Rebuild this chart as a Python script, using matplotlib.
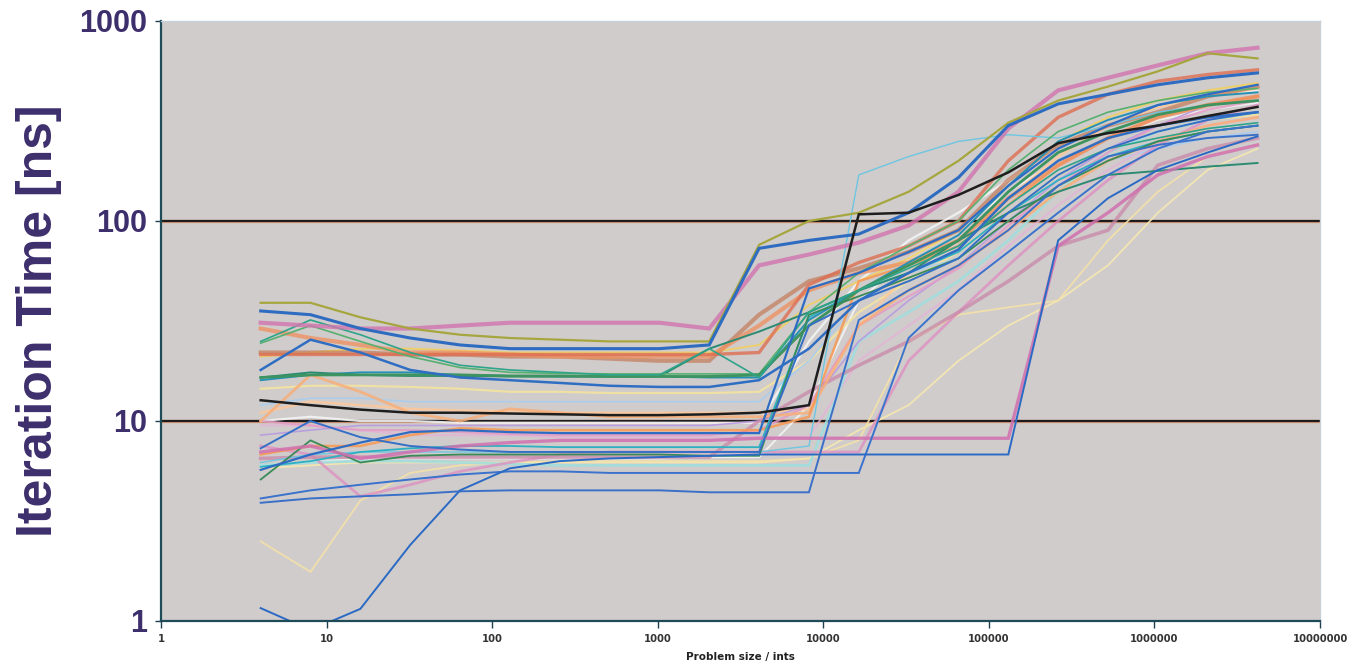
import matplotlib
matplotlib.use("Agg")
import matplotlib.pyplot as plt
from matplotlib.ticker import FixedLocator, NullLocator

# Problem sizes (ints): 2^2 .. 2^22
sizes = [4, 8, 16, 32, 64, 128, 256, 512, 1024, 2048, 4096, 8192, 16384, 32768,
         65536, 131072, 262144, 524288, 1048576, 2097152, 4194304]

x_ticks = [1, 10, 100, 1000, 10000, 100000, 1000000, 10000000]
x_tick_labels = ["1", "10", "100", "1000", "10000", "100000", "1000000", "10000000"]
y_ticks = [1, 10, 100, 1000]
y_tick_labels = ["1", "10", "100", "1000"]

# Iteration time [ns] per configuration
s_olive = [39, 39, 33, 29, 27, 26, 25.5, 25, 25, 25, 76, 100, 110, 140, 200, 310, 400, 470, 560, 690, 650]
s_pink_top = [31, 30, 29, 29, 30, 31, 31, 31, 31, 29, 60, 68, 78, 95, 140, 290, 450, 520, 600, 690, 735]
s_blue_top = [35.5, 34, 29, 26, 24, 23, 23, 23, 23, 24, 73, 80, 86, 110, 165, 300, 385, 430, 480, 520, 550]
s_black = [12.7, 12, 11.4, 11, 11, 10.9, 10.8, 10.7, 10.7, 10.8, 11, 12, 108, 110, 135, 175, 245, 275, 300, 335, 372]
s_orange = [29, 26, 24, 22, 22, 21.5, 21, 21, 21, 21, 30, 45, 55, 62, 80, 130, 190, 260, 330, 380, 420]
s_brown = [22, 22, 22, 21.5, 21.5, 21, 21, 20.5, 20, 20, 34, 50, 58, 70, 90, 160, 240, 300, 350, 420, 470]
s_teal_zig = [25, 32, 27, 22, 19, 18, 17.5, 17, 17, 23, 16.5, 35, 45, 58, 75, 120, 180, 230, 260, 290, 310]
s_green = [16.5, 17, 17, 17, 17, 16.8, 16.8, 16.7, 16.7, 16.7, 17, 30, 45, 60, 80, 140, 220, 280, 340, 380, 400]
s_blue_b = [18, 25.5, 22, 18, 16.5, 16, 15.5, 15, 14.8, 14.8, 16, 23, 40, 55, 72, 130, 200, 260, 300, 330, 350]
s_paleyellow = [14.5, 15, 15, 14.8, 14.5, 14, 14, 13.8, 13.8, 13.8, 14, 20, 35, 50, 70, 110, 170, 230, 280, 320, 340]
s_lightorange = [10, 17, 14, 11, 10, 11.5, 11, 10.5, 10.5, 10.5, 10.5, 11, 30, 45, 60, 90, 140, 200, 250, 300, 330]
s_cyan = [6.2, 6.8, 7, 7, 7, 7, 7, 7, 7, 7, 7, 7.5, 170, 210, 250, 270, 260, 300, 350, 380, 400]
s_blue_zig = [7.3, 10, 8.3, 7.5, 7.2, 7, 7, 7, 7, 7, 7, 30, 40, 50, 65, 110, 170, 230, 280, 320, 350]
s_blue_c = [5.7, 6.8, 7.8, 8.8, 9, 8.8, 8.7, 8.7, 8.7, 8.7, 8.7, 46, 55, 70, 90, 150, 230, 300, 380, 430, 480]
s_blue_d = [4.1, 4.5, 4.8, 5.1, 5.4, 5.6, 5.6, 5.5, 5.5, 5.5, 5.5, 5.5, 5.5, 26, 45, 70, 110, 170, 230, 280, 300]
s_blue_e = [3.9, 4.1, 4.2, 4.3, 4.45, 4.5, 4.5, 4.5, 4.5, 4.4, 4.4, 4.4, 32, 45, 60, 90, 150, 210, 240, 260, 270]
s_blue_low = [1.16, 0.9, 1.15, 2.4, 4.5, 5.8, 6.3, 6.5, 6.6, 6.7, 6.8, 6.8, 6.8, 6.8, 6.8, 6.8, 80, 130, 180, 220, 265]
s_pink_late = [7, 7.5, 6.5, 7, 7.5, 7.8, 8, 8, 8, 8, 8.2, 8.2, 8.2, 8.2, 8.2, 8.2, 75, 110, 170, 210, 240]
s_yellow_low = [2.5, 1.76, 4, 5.5, 6, 6.2, 6.3, 6.3, 6.3, 6.3, 6.3, 6.5, 8, 25, 34, 37, 40, 80, 140, 210, 240]
s_green_zig = [5.1, 8, 6.2, 6.7, 6.8, 6.8, 6.8, 6.8, 6.8, 6.7, 6.7, 34, 42, 52, 65, 100, 150, 200, 250, 280, 300]
s_teal = [5.9, 6.3, 7, 7.3, 7.5, 7.5, 7.4, 7.4, 7.4, 7.4, 7.4, 33, 45, 55, 70, 110, 160, 210, 250, 280, 300]
s_orange_b = [6.8, 7.5, 7.5, 8.5, 9.2, 9, 9, 9, 9, 9, 9, 10.5, 50, 60, 75, 120, 190, 260, 330, 380, 420]
s_pink_light = [7.5, 6.8, 4.2, 4.8, 5.6, 6.2, 6.8, 7, 7, 7, 7, 7, 7, 20, 35, 60, 100, 160, 240, 320, 380]
s_lightblue = [12, 13, 13, 12.5, 12.5, 12.5, 12.5, 12.5, 12.5, 12.5, 12.5, 20, 40, 55, 65, 100, 150, 200, 230, 260, 280]
s_lavender = [9.5, 9.5, 9, 8.5, 8.5, 8.5, 8.3, 8.3, 8.3, 8.3, 8.3, 8.3, 20, 30, 45, 75, 120, 180, 250, 300, 330]
s_white_a = [10, 10.5, 10, 10, 9.8, 9.8, 9.8, 9.8, 9.8, 9.8, 9.8, 25, 50, 80, 110, 160, 230, 300, 380, 420, 450]
s_white_b = [6, 6.2, 6.5, 6.5, 6.5, 6.5, 6.5, 6.5, 6.5, 6.6, 6.6, 12, 40, 65, 90, 140, 200, 260, 320, 360, 390]
s_lightgreen = [24.5, 30, 25, 21, 18.5, 17.5, 17.3, 17.2, 17.2, 17.2, 17.2, 35, 55, 75, 100, 180, 280, 350, 400, 440, 460]
s_red = [21.5, 21.5, 21.5, 21.5, 21.5, 21.5, 21.5, 21.5, 21.5, 21.5, 22, 48, 62, 75, 100, 200, 330, 430, 500, 540, 570]
s_darkteal = [16.5, 17.5, 17, 16.8, 16.8, 16.7, 16.7, 16.7, 16.7, 23, 28, 35, 45, 55, 80, 110, 140, 170, 178, 187, 195]
s_lilac = [8.5, 9, 9.5, 9.5, 9.5, 9.5, 9.5, 9.5, 9.5, 9.5, 10, 12, 25, 40, 60, 100, 160, 230, 300, 380, 420]
s_mauve = [6.5, 6.6, 6.6, 6.6, 6.6, 6.6, 6.6, 6.6, 6.6, 6.6, 10, 14, 19, 25, 35, 50, 75, 90, 190, 230, 260]
s_paleorange = [11, 12.5, 12, 11.5, 11.3, 11.2, 11, 11, 11, 11, 11, 11.5, 30, 55, 80, 130, 210, 300, 370, 420, 460]
s_yellow = [21, 22, 23, 23, 22.5, 22, 22, 22, 22, 22, 24, 38, 50, 65, 90, 150, 250, 330, 400, 450, 490]
s_tealblue = [16, 17, 17.5, 17.5, 17, 16.8, 16.7, 16.7, 16.7, 16.5, 16.5, 32, 45, 62, 85, 150, 250, 320, 380, 420, 440]
s_pink_mid = [10, 9.5, 9, 9, 8.8, 8.6, 8.5, 8.5, 8.5, 8.5, 9, 12, 30, 42, 58, 95, 150, 220, 300, 360, 400]
s_lightcyan = [6, 6.2, 6.3, 6.3, 6.2, 6.1, 6, 6, 6, 6, 6, 6, 25, 35, 50, 80, 140, 220, 280, 320, 350]
s_paleyellow_b = [5.8, 6, 6.2, 6.2, 6.2, 6.2, 6.2, 6.2, 6.2, 6.2, 6.2, 6.5, 9, 12, 20, 30, 40, 60, 110, 180, 230]

# (values, colour, width, alpha) - drawn in this order
series = [
    (s_white_a, "#f4f4f4", 1.6, 0.9),
    (s_white_b, "#f4f4f4", 1.4, 0.9),
    (s_paleyellow, "#f3e3a0", 1.6, 0.9),
    (s_paleyellow_b, "#f6e8b0", 1.3, 0.9),
    (s_yellow_low, "#f5e2a8", 1.3, 0.9),
    (s_lightblue, "#a8cdf0", 1.2, 0.9),
    (s_lavender, "#e3b5d5", 1.6, 0.8),
    (s_paleorange, "#ffc898", 1.8, 0.8),
    (s_lightcyan, "#9fdede", 2.0, 0.85),
    (s_lilac, "#b89ae0", 1.2, 0.9),
    (s_pink_mid, "#e49bc6", 1.6, 0.85),
    (s_pink_light, "#e08cc0", 2.0, 0.75),
    (s_mauve, "#c888a8", 2.6, 0.75),
    (s_yellow, "#f0cf60", 1.4, 0.9),
    (s_lightorange, "#f8ae78", 2.0, 0.85),
    (s_orange_b, "#f59a58", 1.8, 0.9),
    (s_brown, "#c47a58", 3.0, 0.7),
    (s_orange, "#ee9262", 3.0, 0.8),
    (s_red, "#de6e52", 2.4, 0.8),
    (s_cyan, "#6ec6e0", 1.0, 1.0),
    (s_teal, "#2fb0c2", 1.3, 1.0),
    (s_tealblue, "#2690b4", 1.4, 1.0),
    (s_darkteal, "#2c8a72", 1.4, 1.0),
    (s_lightgreen, "#58b070", 1.2, 1.0),
    (s_green, "#3d9460", 2.0, 1.0),
    (s_green_zig, "#3a8a58", 1.3, 1.0),
    (s_teal_zig, "#2ea48a", 1.2, 1.0),
    (s_pink_late, "#d070b0", 2.4, 0.85),
    (s_pink_top, "#d274ae", 3.0, 0.8),
    (s_olive, "#a6a63e", 1.6, 1.0),
    (s_blue_e, "#3a70c8", 1.4, 1.0),
    (s_blue_d, "#3a72cc", 1.4, 1.0),
    (s_blue_c, "#2e6cc4", 1.6, 1.0),
    (s_blue_zig, "#3570c6", 1.4, 1.0),
    (s_blue_b, "#2f6ec2", 1.8, 1.0),
    (s_blue_low, "#2a6ac4", 1.4, 1.0),
    (s_blue_top, "#2d6cc0", 2.2, 1.0),
    (s_black, "#1e1e1e", 1.8, 1.0),
]

label_color = "#3d2f6c"
arial = ["Liberation Sans", "DejaVu Sans"]

fig = plt.figure(figsize=(13.52, 6.69), dpi=100)
fig.patch.set_facecolor("white")
ax = fig.add_axes([161 / 1352, 1 - 621 / 669, (1320 - 161) / 1352, 600 / 669])
ax.set_facecolor("#d0cccc")
ax.set_xscale("log")
ax.set_yscale("log")
ax.set_xlim(1, 1e7)
ax.set_ylim(1, 1000)

for yv in (10, 100):
    ax.axhline(yv, color="#d89878", lw=2.4, zorder=1)
    ax.axhline(yv, color="#1c1c1c", lw=1.6, zorder=1.5)

for vals, col, lw, a in series:
    ax.plot(sizes, vals, color=col, lw=lw, alpha=a, zorder=2, solid_joinstyle="miter")

ax.xaxis.set_major_locator(FixedLocator(x_ticks))
ax.xaxis.set_minor_locator(NullLocator())
ax.yaxis.set_major_locator(FixedLocator(y_ticks))
ax.yaxis.set_minor_locator(NullLocator())
ax.set_xticklabels(x_tick_labels, fontsize=7.2, fontweight="bold",
                   color="#333333", family="DejaVu Sans")
ax.set_yticklabels(y_tick_labels, fontsize=22, fontweight="bold",
                   color=label_color, family=arial)
ax.tick_params(axis="x", direction="out", length=5, width=1, color="#204050", pad=4)
ax.tick_params(axis="y", direction="out", length=4, width=1, color="#204050", pad=6)

for side in ("left", "bottom"):
    ax.spines[side].set_color("#1f4a58")
    ax.spines[side].set_linewidth(1.6)
for side in ("top", "right"):
    ax.spines[side].set_color("#c8d0d8")
    ax.spines[side].set_linewidth(1.0)

ax.set_ylabel("Iteration Time [ns]", fontsize=36, fontweight="bold",
              color=label_color, labelpad=12, family=arial)
ax.set_xlabel("Problem size / ints", fontsize=7.5, fontweight="bold",
              color="#222222", labelpad=6, family="DejaVu Sans")

fig.savefig("out.png", dpi=100)
